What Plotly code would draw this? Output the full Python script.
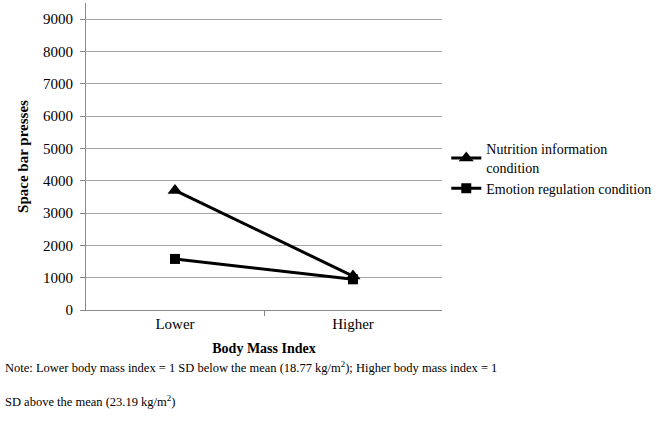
import plotly.graph_objects as go

categories = ["Lower", "Higher"]
nutrition = [3700, 1050]
emotion = [1580, 950]
y_ticks = list(range(0, 10000, 1000))

FONT = "Liberation Serif"
x_pos = list(range(len(categories)))

fig = go.Figure()
fig.add_trace(
    go.Scatter(
        x=x_pos,
        y=nutrition,
        mode="lines+markers",
        name="Nutrition information<br>condition",
        line={"color": "black", "width": 3},
        marker={"symbol": "triangle-up", "size": 13, "color": "black"},
    )
)
fig.add_trace(
    go.Scatter(
        x=x_pos,
        y=emotion,
        mode="lines+markers",
        name="Emotion regulation condition",
        line={"color": "black", "width": 3},
        marker={"symbol": "square", "size": 10, "color": "black"},
    )
)

fig.update_layout(
    width=667,
    height=430,
    plot_bgcolor="white",
    paper_bgcolor="white",
    font={"family": FONT, "size": 15, "color": "black"},
    margin={"l": 86, "r": 225, "t": 3, "b": 120},
    legend={
        "x": 1.012,
        "y": 0.46,
        "xanchor": "left",
        "yanchor": "middle",
        "font": {"family": FONT, "size": 14, "color": "black"},
        "tracegroupgap": 4,
        "itemwidth": 30,
    },
)

fig.update_xaxes(
    range=[-0.5, 1.5],
    tickvals=x_pos,
    ticktext=categories,
    ticks="",
    tickfont={"family": FONT, "size": 15},
    showline=True,
    linecolor="#888888",
    linewidth=1,
    showgrid=False,
    zeroline=False,
    automargin=False,
    minor={"tickvals": [0.5], "ticks": "outside", "ticklen": 5, "tickcolor": "#888888", "showgrid": False},
    title={"text": "<b>Body Mass Index</b>", "standoff": 12, "font": {"family": FONT, "size": 14}},
)
fig.update_yaxes(
    range=[0, 9500],
    tickvals=y_ticks,
    ticks="outside",
    ticklen=5,
    tickcolor="#888888",
    tickfont={"family": FONT, "size": 15},
    ticklabelstandoff=4,
    showline=True,
    linecolor="#888888",
    linewidth=1,
    showgrid=True,
    gridcolor="#a6a6a6",
    zeroline=False,
    automargin=False,
    title={"text": "<b>Space bar presses</b>", "standoff": 10, "font": {"family": FONT, "size": 15}},
)

fig.add_annotation(
    text="Note: Lower body mass index = 1 SD below the mean (18.77 kg/m<sup>2</sup>); Higher body mass index = 1",
    xref="paper", yref="paper", x=-83 / 356, y=-57 / 307,
    xanchor="left", yanchor="middle", showarrow=False,
    font={"family": FONT, "size": 12.5},
)
fig.add_annotation(
    text="SD above the mean (23.19 kg/m<sup>2</sup>)",
    xref="paper", yref="paper", x=-83 / 356, y=-91 / 307,
    xanchor="left", yanchor="middle", showarrow=False,
    font={"family": FONT, "size": 12.5},
)

fig.write_html(
    "out.html",
    config={"displayModeBar": False},
    post_script="document.body.style.margin = '0';",
)
